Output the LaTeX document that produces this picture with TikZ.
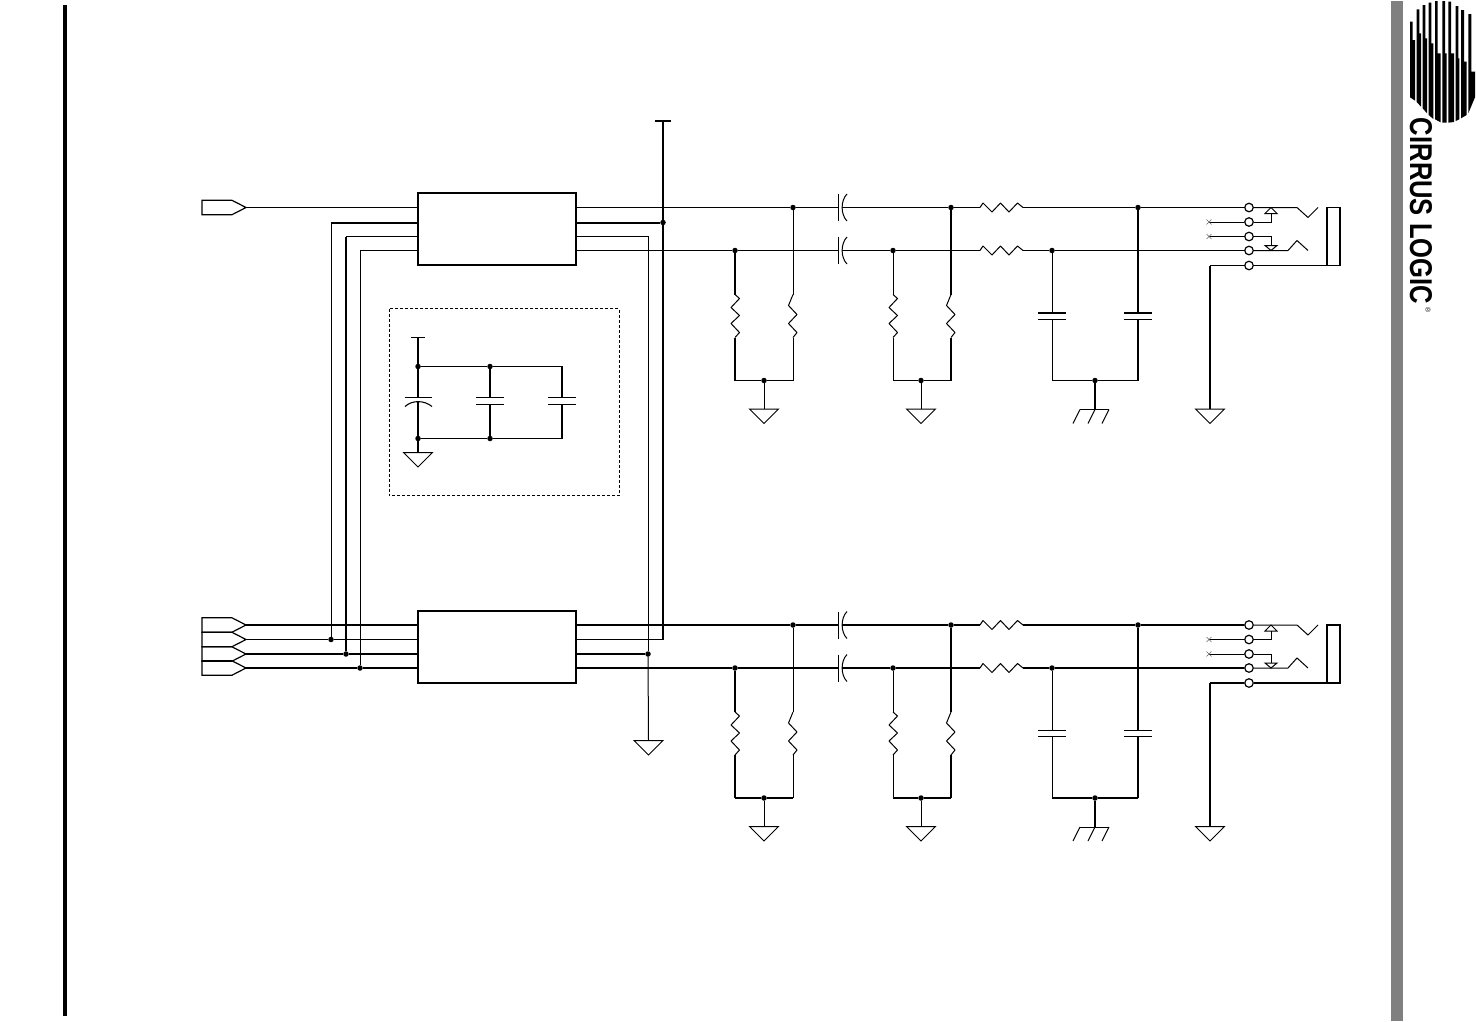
\documentclass[tikz,border=0pt]{standalone}
\usepackage{fontspec}
\setmainfont{Liberation Sans}
\usepackage{graphicx}
\tikzset{
  x=1pt,y=-1pt,
  wthin/.style={line width=1pt},
  wmed/.style={line width=1.5pt},
  wbus/.style={line width=1.8pt},
  wthick/.style={line width=2pt},
  icbox/.style={draw,line width=2pt,minimum width=158pt,minimum height=72pt,inner sep=0pt},
  jdot/.style={circle,fill=black,minimum size=5.5pt,inner sep=0pt},
  jcirc/.style={circle,draw,fill=white,line width=1.2pt,minimum size=8.5pt,inner sep=0pt},
  scap/.pic={
    \coordinate (-l) at (0,0); \coordinate (-r) at (4,0);
    \draw[wthin] (0,-13.5) -- (0,13.5);
    \draw[wthin] (9,-13.5) .. controls (2.5,-7) and (2.5,7) .. (9,13.5);
  },
  rh/.pic={
    \coordinate (-a) at (0,0); \coordinate (-b) at (43,0);
    \draw[wthin,line join=round] (0,0) -- (3,-4.5) -- (12,4.5) -- (20.5,-4.5) -- (29,4.5) -- (37.5,-4.5) -- (43,0);
  },
  rvl/.pic={
    \coordinate (-a) at (0,0); \coordinate (-b) at (0,43);
    \draw[wthin,line join=round] (0,0) -- (4.5,4) -- (-4,13) -- (4.5,21) -- (-4,29) -- (4.5,38) -- (0,43);
  },
  rvr/.pic={
    \coordinate (-a) at (0,0); \coordinate (-b) at (0,43);
    \draw[wthin,line join=round] (0,0) -- (-4.5,11) -- (4,20) -- (-4.5,29) -- (4,38) -- (0,43);
  },
  gndp/.pic={
    \coordinate (-t) at (0,0);
    \draw[wthin,line join=miter] (-14.5,0) -- (14.5,0) -- (0,14.5) -- cycle;
  },
  chas/.pic={
    \coordinate (-t) at (0,0);
    \draw[wthin] (-15,0) -- (14,0);
    \draw[wthin] (-15,0) -- (-22,14) (0,0) -- (-7,14) (14,0) -- (7,14);
  },
  pcap/.pic={
    \coordinate (-t) at (0,-3.5); \coordinate (-b) at (0,2.5);
    \draw[line width=1.8pt] (-14,-3.5) -- (14,-3.5);
    \draw[wthin] (-14,2.5) -- (14,2.5);
  },
  dcap/.pic={
    \coordinate (-t) at (0,-3.5); \coordinate (-b) at (0,3.5);
    \draw[line width=1.1pt] (-14,-3.5) -- (14,-3.5);
    \draw[line width=1.1pt] (-14,3.5) -- (14,3.5);
  },
  port/.pic={
    \coordinate (-tip) at (44,0);
    \draw[line width=1.2pt,line join=miter] (0,-7.2) -- (30,-7.2) -- (44,0) -- (30,7.2) -- (0,7.2) -- cycle;
  },
  arrup/.pic={
    \coordinate (-s) at (0,6);
    \draw[wthin] (-6,6) -- (6,6) -- (0,0) -- cycle;
  },
  arrdn/.pic={
    \coordinate (-s) at (0,-5);
    \draw[wthin] (-6,-5) -- (6,-5) -- (0,0) -- cycle;
  },
}
\newcommand{\Chan}[5]{%
\begin{scope}[shift={(0,#2)}]
  \node[icbox] (#1box) at (497,228.5) {};
  \coordinate (#1o1) at (576,207);
  \coordinate (#1o4) at (576,250);
  \node[jdot] (#1j1) at (793,207) {};
  \node[jdot] (#1j2) at (735,250) {};
  \node[jdot] (#1j3) at (951,207) {};
  \node[jdot] (#1j4) at (893,250) {};
  \node[jdot] (#1j5) at (1138,207) {};
  \node[jdot] (#1j6) at (1052,250) {};
  \node[jdot] (#1j7) at (764,380) {};
  \node[jdot] (#1j8) at (921,380) {};
  \node[jdot] (#1j9) at (1095,380) {};
  \pic (#1c1) at (838,207) {scap};
  \pic (#1c2) at (838,250) {scap};
  \pic (#1r1) at (980,207) {rh};
  \pic (#1r2) at (980,250) {rh};
  \pic (#1r3) at (735,294) {rvl};
  \pic (#1r4) at (793,294) {rvr};
  \pic (#1r5) at (893,294) {rvl};
  \pic (#1r6) at (951,294) {rvr};
  \pic (#1c3) at (1052,316) {pcap};
  \pic (#1c4) at (1138,316) {pcap};
  \pic (#1g1) at (764,408.5) {gndp};
  \pic (#1g2) at (921,408.5) {gndp};
  \pic (#1g3) at (1095,409) {chas};
  \pic (#1g4) at (1210,408.5) {gndp};
  \node[jcirc] (#1p1) at (1249,207) {};
  \node[jcirc] (#1p2) at (1249,221.5) {};
  \node[jcirc] (#1p3) at (1249,236) {};
  \node[jcirc] (#1p4) at (1249,250) {};
  \node[jcirc] (#1p5) at (1249,265) {};
  \coordinate (#1x2) at (1209,221.5);
  \coordinate (#1x3) at (1209,236);
  \coordinate (#1n1) at (1297,207);
  \coordinate (#1n2) at (1308,217);
  \coordinate (#1n3) at (1318,207);
  \coordinate (#1m1) at (1288,250);
  \coordinate (#1m2) at (1297,240);
  \coordinate (#1m3) at (1308,250);
  \pic (#1a1) at (1271,207) {arrup};
  \pic (#1a2) at (1271,250) {arrdn};
  \coordinate (#1s1) at (1327,207);
  \coordinate (#1s2) at (1340,207);
  \coordinate (#1s3) at (1340,265);
  \coordinate (#1s4) at (1327,265);
  \coordinate (#1e) at (1210,265);
  \draw[#3] (#1o1) -- (#1j1) -- (#1c1-l);
  \draw[#3] (#1c1-r) -- (#1j3) -- (#1r1-a);
  \draw[#3] (#1r1-b) -- (#1j5) -- (#1p1);
  \draw[#3] (#1o4) -- (#1j2) -- (#1c2-l);
  \draw[#3] (#1c2-r) -- (#1j4) -- (#1r2-a);
  \draw[#3] (#1r2-b) -- (#1j6) -- (#1p4);
  \draw[wmed] (#1j2) -- (#1r3-a) (#1r3-b) -- (#1r3-b |- #1j7);
  \draw[wthin] (#1j1) -- (#1r4-a) (#1r4-b) -- (#1r4-b |- #1j7);
  \draw[wthin] (#1j4) -- (#1r5-a) (#1r5-b) -- (#1r5-b |- #1j8);
  \draw[wmed] (#1j3) -- (#1r6-a) (#1r6-b) -- (#1r6-b |- #1j8);
  \draw[#4] (#1j7) -- (#1r3-b |- #1j7) (#1j7) -- (#1r4-b |- #1j7);
  \draw[#4] (#1j8) -- (#1r5-b |- #1j8) (#1j8) -- (#1r6-b |- #1j8);
  \draw[wthin] (#1j7) -- (#1g1-t);
  \draw[wthin] (#1j8) -- (#1g2-t);
  \draw[wthin] (#1j6) -- (#1c3-t) (#1c3-b) -- (#1c3-b |- #1j9);
  \draw[wmed] (#1j5) -- (#1c4-t);
  \draw[wmed] (#1c4-b) -- (#1c4-b |- #1j9);
  \draw[#5] (#1j9) -- (#1c3-b |- #1j9) (#1j9) -- (#1c4-b |- #1j9);
  \draw[wmed] (#1j9) -- (#1g3-t);
  \draw[wthin] (#1x2) -- (#1p2);
  \draw[wthin] (#1x3) -- (#1p3);
  \draw[line width=0.6pt,black!60] (#1x2) ++(-2.5,-2.5) -- ++(5,5) ++(-5,0) -- ++(5,-5);
  \draw[line width=0.6pt,black!60] (#1x3) ++(-2.5,-2.5) -- ++(5,5) ++(-5,0) -- ++(5,-5);
  \draw[wthin] (#1p1) -- (#1n1) -- (#1n2) -- (#1n3);
  \draw[wthin] (#1p4) -- (#1m1) -- (#1m2) -- (#1m3);
  \draw[wthin] (#1p2) -| (#1a1-s);
  \draw[wthin] (#1p3) -| (#1a2-s);
  \draw[line width=1.2pt,line join=miter] (#1s4) -- (#1s1) -- (#1s2) -- (#1s3) -- (#1s4);
  \draw[wmed] (#1p5) -- (#1s4);
  \draw[wmed] (#1p5) -- (#1e);
  \draw[wthick] (#1e) -- (#1g4-t);
\end{scope}}
\newcommand{\Stripe}[7]{\fill (#1,#4) -- (#2,#4) -- (#2,#5) -- (#3,#5) -- (#3,#7) -- (#1,#6) -- cycle;}
\begin{document}
\begin{tikzpicture}
\useasboundingbox (0,0) rectangle (1476,1021);
\fill[white] (0,0) rectangle (1476,1021);
\fill[black] (63,5) rectangle (67,1016);
\fill[black!50] (1391,1) rectangle (1403,1021);
\begin{scope}[shift={(1400,0)},x=0.3333pt,y=-0.3333pt]
  \Stripe{30}{38}{45}{65}{120}{292}{302}
  \Stripe{50}{58}{63}{28}{100}{306}{320}
  \Stripe{68}{76}{81}{15}{115}{325}{340}
  \Stripe{86}{94}{100}{8}{130}{345}{357}
  \Stripe{105}{113}{122}{3}{160}{358}{367}
  \Stripe{127}{135}{140}{3}{160}{368}{368}
  \Stripe{145}{153}{162}{5}{160}{368}{366}
  \Stripe{167}{175}{178}{18}{175}{363}{358}
  \Stripe{183}{192}{200}{30}{185}{355}{345}
  \Stripe{205}{214}{225}{42}{215}{340}{292}
\end{scope}
\node[rotate=-90,inner sep=0pt] (logotext) at (1421,211) {\resizebox{186pt}{22pt}{\bfseries CIRRUS LOGIC}};
\node[rotate=-90,inner sep=0pt,font=\fontsize{7}{7}\selectfont] (logoreg) at (1428,310) {®};
\begin{scope}[shift={(0,0.5)}]
\Chan{a}{0}{wthin}{wthin}{wthin}
\Chan{b}{417.5}{wthick}{wthick}{wthick}
\pic (pa) at (202,207) {port};
\pic (pb1) at (202,624.5) {port};
\pic (pb2) at (202,639) {port};
\pic (pb3) at (202,653.5) {port};
\pic (pb4) at (202,667.5) {port};
\coordinate (ai1) at (418,207);
\coordinate (ai2) at (418,222);
\coordinate (ai3) at (418,236);
\coordinate (ai4) at (418,250);
\coordinate (bi1) at (418,624.5);
\coordinate (bi2) at (418,639);
\coordinate (bi3) at (418,653.5);
\coordinate (bi4) at (418,667.5);
\node[jdot] (d1) at (331,639) {};
\node[jdot] (d2) at (346,653.5) {};
\node[jdot] (d3) at (360,667.5) {};
\coordinate (e1) at (331,222);
\coordinate (e2) at (346,236);
\coordinate (e3) at (360,250);
\draw[wthin] (pa-tip) -- (ai1);
\draw[wthick] (ai2) -- (e1);
\draw[wthin] (e1) -- (d1);
\draw[wthin] (ai3) -- (e2);
\draw[wthick] (e2) -- (d2);
\draw[wthin] (ai4) -- (e3) -- (d3);
\draw[wthick] (pb1-tip) -- (bi1);
\draw[wthin] (pb2-tip) -- (d1) -- (bi2);
\draw[wthick] (pb3-tip) -- (d2) -- (bi3);
\draw[wthick] (pb4-tip) -- (d3) -- (bi4);
\node[jdot] (d4) at (663,222) {};
\node[jdot] (d5) at (648,653.5) {};
\coordinate (vt) at (663,120);
\coordinate (vb) at (663,639);
\coordinate (ao2) at (576,222);
\coordinate (ao3) at (576,236);
\coordinate (bo2) at (576,639);
\coordinate (bo3) at (576,653.5);
\pic (g5) at (648.5,740) {gndp};
\draw[wthick] (655,120) -- (671,120);
\draw[wthick] (vt) -- (d4);
\draw[wthick] (ao2) -- (d4);
\draw[wthick] (d4) -- (vb);
\draw[wthin] (vb) -- (bo2);
\draw[wthin] (ao3) -| (d5);
\draw[wthick] (bo3) -- (d5);
\draw[wthin] (d5) -- (g5-t);
\draw[wthin,dash pattern=on 3pt off 2pt] (389,308) rectangle (619,495);
\node[jdot] (k1) at (418,366) {};
\node[jdot] (k2) at (490,366) {};
\node[jdot] (k3) at (418,438) {};
\node[jdot] (k4) at (490,438) {};
\coordinate (kt) at (418,337);
\coordinate (k5) at (562,366);
\coordinate (k6) at (562,438);
\pic (kc2) at (490,400.5) {dcap};
\pic (kc3) at (562,400.5) {dcap};
\pic (kg) at (418,452) {gndp};
\coordinate (kc1t) at (418,397);
\coordinate (kc1b) at (418,401);
\draw[line width=1.4pt] (411,337) -- (425,337);
\draw[line width=1.1pt] (404.5,397) -- (431.5,397);
\draw[line width=1.1pt] (405,406) .. controls (412,399.5) and (424,399.5) .. (432,406);
\draw[wbus] (kt) -- (k1) -- (kc1t);
\draw[wbus] (kc1b) -- (k3) -- (kg-t);
\draw[wbus] (k1) -- (k2) -- (k5) -- (kc3-t);
\draw[wbus] (k3) -- (k4) -- (k6) -- (kc3-b);
\draw[wbus] (k2) -- (kc2-t);
\draw[wbus] (k4) -- (kc2-b);
\end{scope}
\end{tikzpicture}
\end{document}
